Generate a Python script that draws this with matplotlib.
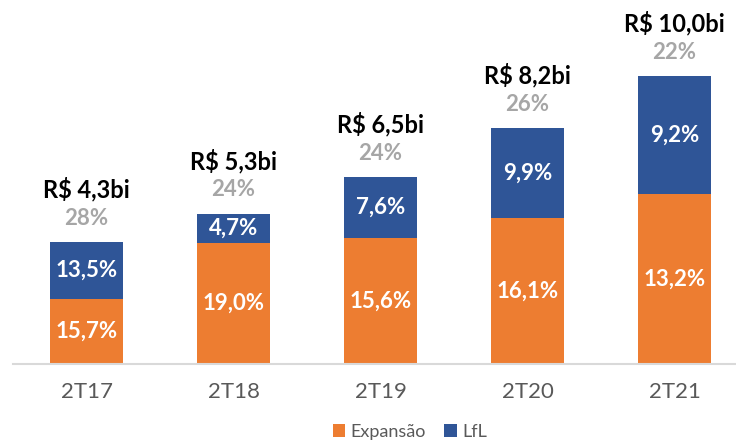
import matplotlib.pyplot as plt
import numpy as np

plt.rcParams['font.family'] = ['Lato', 'DejaVu Sans']

periods = ['2T17', '2T18', '2T19', '2T20', '2T21']
expansao = [2.25, 4.18, 4.37, 5.05, 5.90]   # R$ bi (bar height)
lfl = [1.97, 1.04, 2.11, 3.14, 4.10]
expansao_lbl = ['15,7%', '19,0%', '15,6%', '16,1%', '13,2%']
lfl_lbl = ['13,5%', '4,7%', '7,6%', '9,9%', '9,2%']
total_lbl = ['R$ 4,3bi', 'R$ 5,3bi', 'R$ 6,5bi', 'R$ 8,2bi', 'R$ 10,0bi']
growth_lbl = ['28%', '24%', '24%', '26%', '22%']

orange = '#ED7D31'
blue = '#2F5597'

fig = plt.figure(figsize=(7.36, 4.43), dpi=100)
ax = fig.add_axes([13 / 736, 0.179, 1 - 13 / 736, 0.821])

x = np.arange(len(periods))
b1 = ax.bar(x, expansao, width=0.5, color=orange, label='Expansão')
b2 = ax.bar(x, lfl, width=0.5, bottom=expansao, color=blue, label='LfL')

for i in range(len(periods)):
    ax.text(x[i], expansao[i] / 2, expansao_lbl[i], ha='center', va='center',
            color='white', fontsize=16, fontweight='bold')
    ax.text(x[i], expansao[i] + lfl[i] / 2, lfl_lbl[i], ha='center', va='center',
            color='white', fontsize=16, fontweight='bold')
    top = expansao[i] + lfl[i]
    ax.annotate(growth_lbl[i], (x[i], top), xytext=(0, 17), textcoords='offset points',
                ha='center', va='center', color='#A6A6A6', fontsize=16, fontweight='bold')
    ax.annotate(total_lbl[i], (x[i], top), xytext=(0, 38), textcoords='offset points',
                ha='center', va='center', color='black', fontsize=17, fontweight='bold')

ax.set_xlim(-0.5, 4.418)
ax.set_ylim(0, 12.64)
ax.set_xticks(x)
ax.set_xticklabels(periods, fontsize=16, color='#595959')
ax.tick_params(axis='x', length=0, pad=13)
ax.set_yticks([])
for s in ['top', 'right', 'left']:
    ax.spines[s].set_visible(False)
ax.spines['bottom'].set_color('#D9D9D9')
ax.spines['bottom'].set_linewidth(1.5)

fig.legend(handles=[b1, b2], loc='center', bbox_to_anchor=(410 / 736, 1 - 432 / 443),
           ncol=2, frameon=False, fontsize=13, handlelength=0.7, handleheight=0.7,
           handletextpad=0.3, columnspacing=1.0, labelcolor='#595959')

fig.savefig('out.png', dpi=100)
